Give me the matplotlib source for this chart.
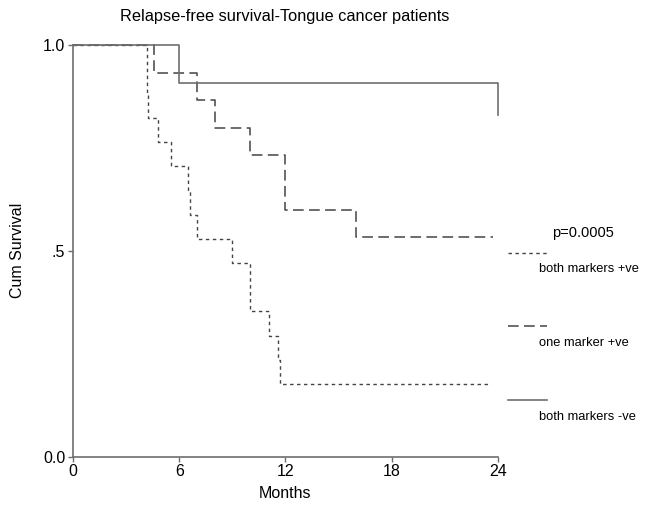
import matplotlib
matplotlib.use("Agg")
import matplotlib.pyplot as plt
from matplotlib.lines import Line2D

plt.rcParams['font.family'] = ['Liberation Sans', 'DejaVu Sans']

# Kaplan-Meier step data (months, cumulative survival)
both_pos_t = [0, 4.16, 4.22, 4.78, 5.54, 6.48, 6.6, 7.0, 9.0, 10.0, 11.05, 11.55, 11.71, 23.6]
both_pos_s = [1.0, 0.882, 0.824, 0.765, 0.706, 0.647, 0.588, 0.529, 0.471, 0.353, 0.294, 0.235, 0.176, 0.176]

one_pos_t = [0, 4.6, 7.0, 8.0, 10.0, 12.0, 16.0, 23.7]
one_pos_s = [1.0, 0.933, 0.867, 0.80, 0.733, 0.60, 0.533, 0.533]

both_neg_t = [0, 6.0, 24.0, 24.0]
both_neg_s = [1.0, 0.909, 0.909, 0.83]

x_ticks = [0, 6, 12, 18, 24]
y_ticks = [0.0, 0.5, 1.0]
y_tick_labels = ['0.0', '.5', '1.0']
legend_labels = ['both markers +ve', 'one marker +ve', 'both markers -ve']

fig = plt.figure(figsize=(6.47, 5.26), dpi=100)
ax = fig.add_axes([73/647, 1-456.7/526, (498-73)/647, (456.7-45.3)/526])

grey = '#6e6e6e'
ax.step(both_pos_t, both_pos_s, where='post', color='#444444', lw=1.0,
        linestyle=(0, (2.5, 2.5)), clip_on=False)
ax.step(one_pos_t, one_pos_s, where='post', color='#444444', lw=1.1,
        linestyle=(0, (7, 3.5)), clip_on=False)
ax.step(both_neg_t, both_neg_s, where='post', color=grey, lw=1.2, clip_on=False)

ax.set_xlim(0, 24)
ax.set_ylim(0, 1)
ax.set_xticks(x_ticks)
ax.set_xticklabels([str(v) for v in x_ticks])
ax.set_yticks(y_ticks)
ax.set_yticklabels(y_tick_labels)
for s in ['top', 'right']:
    ax.spines[s].set_visible(False)
for s in ['left', 'bottom']:
    ax.spines[s].set_color(grey)
    ax.spines[s].set_linewidth(1.2)
ax.tick_params(direction='out', length=3.5, width=1, color=grey, labelsize=11.5, pad=2)

fig.text(285/647, 1-17/526, 'Relapse-free survival-Tongue cancer patients',
         ha='center', va='center', fontsize=11.8)
fig.text(17.5/647, 1-250/526, 'Cum Survival', rotation=90, ha='center', va='center', fontsize=11.5)
fig.text(285/647, 1-493/526, 'Months', ha='center', va='center', fontsize=11.5)

# legend (drawn manually as in the original)
fig.text(552/647, 1-232.7/526, 'p=0.0005', ha='left', va='center', fontsize=10.5)
styles = [dict(color='#444444', lw=1.0, linestyle=(0, (2.5, 2.5))),
          dict(color='#444444', lw=1.1, linestyle=(0, (7, 3.5))),
          dict(color=grey, lw=1.2, linestyle='-')]
line_y = [252.5, 326, 400]
text_y = [269, 342.7, 417.3]
for lab, st, ly, ty in zip(legend_labels, styles, line_y, text_y):
    fig.add_artist(Line2D([508/647, 547/647], [1-ly/526, 1-ly/526], transform=fig.transFigure, **st))
    fig.text(539/647, 1-ty/526, lab, ha='left', va='center', fontsize=9.3)

fig.savefig('out.png', dpi=100)
